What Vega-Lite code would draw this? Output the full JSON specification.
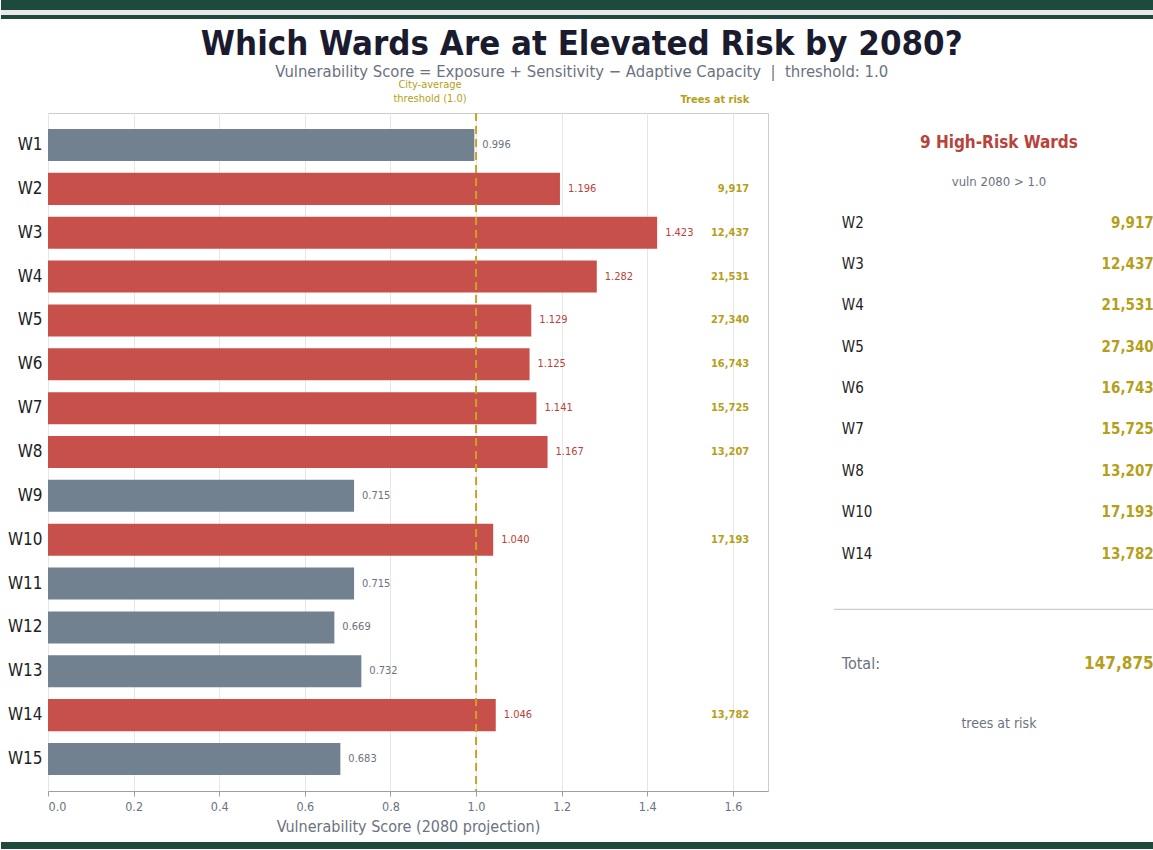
{
  "$schema": "https://vega.github.io/schema/vega-lite/v6.json",
  "padding": 0,
  "background": "white",
  "spacing": 7,
  "columns": 1,
  "align": "none",
  "config": {
    "font": "DejaVu Sans Condensed, Liberation Sans Narrow, DejaVu Sans",
    "view": {"stroke": null}
  },
  "datasets": {
    "wards": [
      {"ward": "W1", "order": 1, "vuln": 0.996, "risk": "low", "trees": null},
      {"ward": "W2", "order": 2, "vuln": 1.196, "risk": "high", "trees": 9917},
      {"ward": "W3", "order": 3, "vuln": 1.423, "risk": "high", "trees": 12437},
      {"ward": "W4", "order": 4, "vuln": 1.282, "risk": "high", "trees": 21531},
      {"ward": "W5", "order": 5, "vuln": 1.129, "risk": "high", "trees": 27340},
      {"ward": "W6", "order": 6, "vuln": 1.125, "risk": "high", "trees": 16743},
      {"ward": "W7", "order": 7, "vuln": 1.141, "risk": "high", "trees": 15725},
      {"ward": "W8", "order": 8, "vuln": 1.167, "risk": "high", "trees": 13207},
      {"ward": "W9", "order": 9, "vuln": 0.715, "risk": "low", "trees": null},
      {"ward": "W10", "order": 10, "vuln": 1.040, "risk": "high", "trees": 17193},
      {"ward": "W11", "order": 11, "vuln": 0.715, "risk": "low", "trees": null},
      {"ward": "W12", "order": 12, "vuln": 0.669, "risk": "low", "trees": null},
      {"ward": "W13", "order": 13, "vuln": 0.732, "risk": "low", "trees": null},
      {"ward": "W14", "order": 14, "vuln": 1.046, "risk": "high", "trees": 13782},
      {"ward": "W15", "order": 15, "vuln": 0.683, "risk": "low", "trees": null}
    ]
  },
  "concat": [
    {
      "spacing": 0,
      "vconcat": [
        {
          "width": 1106, "height": 10, "data": {"values": [{}]},
          "mark": {"type": "rect", "color": "#1d4a3c"},
          "encoding": {
            "x": {"datum": -0.0425, "type": "quantitative", "scale": {"domain": [0, 1], "nice": false, "zero": false}, "axis": null},
            "x2": {"datum": 1.0}
          }
        },
        {
          "width": 1106, "height": 5, "data": {"values": [{}]},
          "mark": {"type": "rect", "color": "#e9e9e9"},
          "encoding": {
            "x": {"datum": -0.0425, "type": "quantitative", "scale": {"domain": [0, 1], "nice": false, "zero": false}, "axis": null},
            "x2": {"datum": 1.0}
          }
        },
        {
          "width": 1106, "height": 4, "data": {"values": [{}]},
          "mark": {"type": "rect", "color": "#1d4a3c"},
          "encoding": {
            "x": {"datum": -0.0425, "type": "quantitative", "scale": {"domain": [0, 1], "nice": false, "zero": false}, "axis": null},
            "x2": {"datum": 1.0}
          }
        }
      ]
    },
    {
      "spacing": 57,
      "title": {
        "text": "Which Wards Are at Elevated Risk by 2080?",
        "subtitle": "Vulnerability Score = Exposure + Sensitivity − Adaptive Capacity \u00a0|\u00a0 threshold: 1.0",
        "anchor": "middle",
        "fontSize": 34.5,
        "fontWeight": "bold",
        "color": "#1b1b2f",
        "subtitleFontSize": 16.5,
        "subtitleColor": "#6b7280",
        "subtitlePadding": 2,
        "offset": -3
      },
      "hconcat": [
        {
          "width": 720,
          "height": 678,
          "view": {"stroke": "#cccccc"},
          "data": {"name": "wards"},
          "layer": [
            {
              "mark": {"type": "bar"},
              "encoding": {
                "y": {
                  "field": "ward",
                  "type": "nominal",
                  "sort": null,
                  "scale": {"paddingInner": 0.27, "paddingOuter": 0.365},
                  "axis": {"title": null, "domain": false, "ticks": false, "labelFontSize": 17, "labelColor": "#222222", "labelPadding": 6}
                },
                "x": {
                  "field": "vuln",
                  "type": "quantitative",
                  "scale": {"domain": [0, 1.682], "nice": false},
                  "axis": {
                    "values": [0, 0.2, 0.4, 0.6, 0.8, 1.0, 1.2, 1.4, 1.6],
                    "format": ".1f",
                    "labelFontSize": 12.5,
                    "labelColor": "#6b7280",
                    "title": "Vulnerability Score (2080 projection)",
                    "titleFontSize": 16,
                    "titleFontWeight": "normal",
                    "titleColor": "#6b7280",
                    "titlePadding": 6,
                    "grid": true,
                    "gridColor": "#e6e6e6",
                    "domainColor": "#9aa0a6",
                    "tickColor": "#9aa0a6",
                    "tickSize": 5,
                    "labelPadding": 4
                  }
                },
                "color": {
                  "field": "risk",
                  "type": "nominal",
                  "scale": {"domain": ["high", "low"], "range": ["#c8504a", "#728190"]},
                  "legend": null
                }
              }
            },
            {
              "mark": {"type": "text", "align": "left", "baseline": "middle", "dx": 8, "fontSize": 11},
              "encoding": {
                "y": {"field": "ward", "type": "nominal", "sort": null},
                "x": {"field": "vuln", "type": "quantitative"},
                "text": {"field": "vuln", "type": "quantitative", "format": ".3f"},
                "color": {
                  "field": "risk",
                  "type": "nominal",
                  "scale": {"domain": ["high", "low"], "range": ["#b8433b", "#6b7280"]},
                  "legend": null
                }
              }
            },
            {
              "transform": [{"filter": "datum.trees != null"}],
              "mark": {"type": "text", "align": "right", "baseline": "middle", "fontSize": 11, "fontWeight": "bold", "color": "#b59f1a"},
              "encoding": {
                "y": {"field": "ward", "type": "nominal", "sort": null},
                "x": {"datum": 1.638, "type": "quantitative"},
                "text": {"field": "trees", "type": "quantitative", "format": ","}
              }
            },
            {
              "data": {"values": [{"threshold": 1.0}]},
              "mark": {"type": "rule", "color": "#c9a227", "strokeDash": [8, 5], "strokeWidth": 2},
              "encoding": {"x": {"field": "threshold", "type": "quantitative"}}
            },
            {
              "data": {"values": [{"note": ["City-average", "threshold (1.0)"]}]},
              "mark": {"type": "text", "align": "center", "baseline": "alphabetic", "fontSize": 11, "lineHeight": 14, "color": "#b59f1a", "dx": -46, "dy": -57},
              "encoding": {
                "x": {"datum": 1.0, "type": "quantitative"},
                "y": {"datum": "W1", "type": "nominal"},
                "text": {"field": "note"}
              }
            },
            {
              "data": {"values": [{"note": "Trees at risk"}]},
              "mark": {"type": "text", "align": "center", "baseline": "alphabetic", "fontSize": 11, "fontWeight": "bold", "color": "#b59f1a", "dy": -42},
              "encoding": {
                "x": {"datum": 1.558, "type": "quantitative"},
                "y": {"datum": "W1", "type": "nominal"},
                "text": {"field": "note"}
              }
            }
          ],
          "resolve": {"scale": {"color": "independent"}}
        },
        {
          "width": 330,
          "height": 678,
          "layer": [
            {
              "data": {"name": "wards"},
              "transform": [
                {"filter": "datum.risk == 'high'"},
                {"window": [{"op": "row_number", "as": "rank"}], "sort": [{"field": "order"}]}
              ],
              "encoding": {
                "y": {"field": "rank", "type": "quantitative", "scale": {"domain": [-1.65, 14.74], "reverse": true, "nice": false, "zero": false}, "axis": null}
              },
              "layer": [
                {
                  "mark": {"type": "text", "align": "left", "baseline": "middle", "fontSize": 15, "color": "#222222"},
                  "encoding": {
                    "x": {"datum": 0.048, "type": "quantitative", "scale": {"domain": [0, 1], "nice": false, "zero": false}, "axis": null},
                    "text": {"field": "ward"}
                  }
                },
                {
                  "mark": {"type": "text", "align": "right", "baseline": "middle", "fontSize": 15, "fontWeight": "bold", "color": "#b59f1a"},
                  "encoding": {
                    "x": {"datum": 0.993, "type": "quantitative"},
                    "text": {"field": "trees", "type": "quantitative", "format": ","}
                  }
                }
              ]
            },
            {
              "data": {"values": [{"label": "9 High-Risk Wards"}]},
              "mark": {"type": "text", "align": "center", "baseline": "middle", "fontSize": 17, "fontWeight": "bold", "color": "#b8433b"},
              "encoding": {
                "x": {"datum": 0.524, "type": "quantitative"},
                "y": {"datum": -0.93, "type": "quantitative"},
                "text": {"field": "label"}
              }
            },
            {
              "data": {"values": [{"label": "vuln 2080 > 1.0"}]},
              "mark": {"type": "text", "align": "center", "baseline": "middle", "fontSize": 13, "color": "#6b7280"},
              "encoding": {
                "x": {"datum": 0.524, "type": "quantitative"},
                "y": {"datum": 0.03, "type": "quantitative"},
                "text": {"field": "label"}
              }
            },
            {
              "data": {"values": [{"from": 0.024, "to": 1.0}]},
              "mark": {"type": "rule", "color": "#c8cdd2", "strokeWidth": 1.2},
              "encoding": {
                "x": {"field": "from", "type": "quantitative"},
                "x2": {"field": "to"},
                "y": {"datum": 10.35, "type": "quantitative"}
              }
            },
            {
              "data": {"values": [{"label": "Total:"}]},
              "mark": {"type": "text", "align": "left", "baseline": "middle", "fontSize": 16, "color": "#6b7280"},
              "encoding": {
                "x": {"datum": 0.048, "type": "quantitative"},
                "y": {"datum": 11.66, "type": "quantitative"},
                "text": {"field": "label"}
              }
            },
            {
              "data": {"name": "wards"},
              "transform": [
                {"filter": "datum.risk == 'high'"},
                {"aggregate": [{"op": "sum", "field": "trees", "as": "total"}]}
              ],
              "mark": {"type": "text", "align": "right", "baseline": "middle", "fontSize": 17, "fontWeight": "bold", "color": "#b59f1a"},
              "encoding": {
                "x": {"datum": 0.993, "type": "quantitative"},
                "y": {"datum": 11.66, "type": "quantitative"},
                "text": {"field": "total", "type": "quantitative", "format": ","}
              }
            },
            {
              "data": {"values": [{"label": "trees at risk"}]},
              "mark": {"type": "text", "align": "center", "baseline": "middle", "fontSize": 14, "color": "#6b7280"},
              "encoding": {
                "x": {"datum": 0.524, "type": "quantitative"},
                "y": {"datum": 13.13, "type": "quantitative"},
                "text": {"field": "label"}
              }
            }
          ]
        }
      ]
    },
    {
      "width": 1106, "height": 7, "data": {"values": [{}]},
      "mark": {"type": "rect", "color": "#1d4a3c"},
      "encoding": {
        "x": {"datum": -0.0425, "type": "quantitative", "scale": {"domain": [0, 1], "nice": false, "zero": false}, "axis": null},
        "x2": {"datum": 1.0}
      }
    }
  ]
}
